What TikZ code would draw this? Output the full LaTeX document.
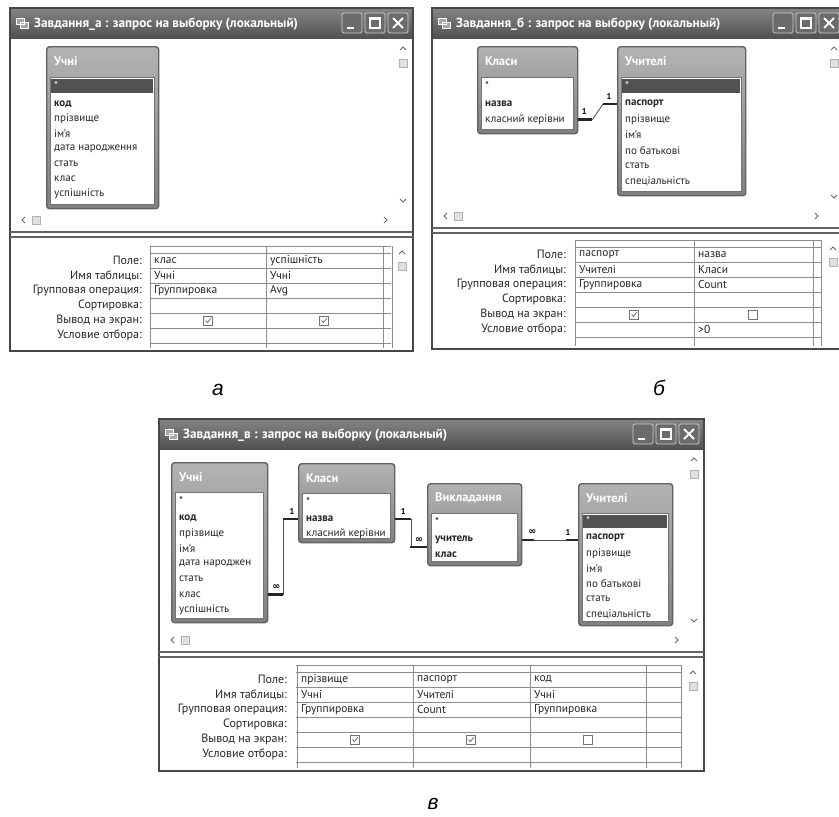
\documentclass[tikz,border=0pt]{standalone}
\usepackage{fontspec}
\setmainfont{PT Sans}
\newfontfamily\capfont{Liberation Sans}
\newfontfamily\symfont{DejaVu Sans}
\usetikzlibrary{positioning,calc}

\begin{document}
\begin{tikzpicture}[x=1pt,y=-1pt,
winframe/.style={draw=black!72,line width=2.2pt},
tbar/.style={top color=black!48,bottom color=black!68},
ttl/.style={font=\bfseries\fontsize{13.2}{15}\selectfont,text=white,anchor=west,inner sep=0pt},
btn/.style={draw=white!80!black,line width=0.8pt,fill=black!58,rounded corners=1.5pt},
arw/.style={draw=black!60,line width=1pt},
thumb/.style={draw=black!30,fill=black!12,line width=0.5pt},
lbl/.style={font=\fontsize{12}{13}\selectfont,anchor=east,inner sep=1pt,text=black!85},
cell/.style={font=\fontsize{11.5}{13}\selectfont,anchor=west,inner sep=1pt,text=black!85},
gline/.style={draw=black!45,line width=0.6pt},
tbl/.style={draw=black!62,line width=1.4pt,top color=black!30,bottom color=black!50,rounded corners=3pt,anchor=north west,inner sep=0pt},
lst/.style={draw=black!55,line width=0.6pt,fill=white},
thead/.style={font=\bfseries\fontsize{12.5}{14}\selectfont,text=white,anchor=west,inner sep=0pt},
fld/.style={font=\fontsize{11}{12}\selectfont,anchor=west,inner sep=0pt,text=black!85},
keyfld/.style={fld,font=\bfseries\fontsize{11}{12}\selectfont},
sel/.style={fill=black!68},
rel/.style={draw=black!70,line width=0.8pt},
relend/.style={draw=black!85,line width=2.4pt},
card/.style={font=\bfseries\fontsize{8.5}{9}\selectfont,inner sep=0pt},
many/.style={font=\symfont\bfseries\fontsize{9.5}{10}\selectfont,inner sep=0pt},
chk/.style={draw=black!55,line width=0.6pt,minimum size=9pt,inner sep=0pt,fill=white},
tick/.style={draw=black!55,line width=0.8pt},
capt/.style={font=\capfont\itshape\fontsize{21}{23}\selectfont,inner sep=0pt}]
\useasboundingbox (0,0) rectangle (839,817);
\clip (0,0) rectangle (839,817);
\fill[white] (0,0) rectangle (839,817);
\foreach \n/\lt/\xl/\yt/\xr/\yb/\dv/\gl/\gt/\gc in {a/а/10/8/413/351/232/143/246/{150,266,383,392},b/б/432/8/844/349/228/567/240/{575,694,813,821},v/в/159/419/704/771/652/288/665/{297,413,530,646,681}}{
\fill[white] (\xl,\yt) rectangle (\xr,\yb);
\fill[tbar] (\xl,\yt) rectangle (\xr,{\yt+30});
\draw[winframe] (\xl,\yt) rectangle (\xr,\yb);
\draw[white,fill=black!35,line width=0.6pt] ({\xl+6},{\yt+10}) rectangle ++(8,6) ({\xl+10},{\yt+14}) rectangle ++(8,6);
\node[ttl] (\n-title) at ({\xl+24},{\yt+16}) {Завдання\_\lt\ : запрос на выборку (локальный)};
\foreach \k in {0,1,2} \draw[btn] ({\xr-71+23*\k},{\yt+5}) rectangle ++(20,20);
\draw[white,line width=2pt] ({\xr-66},{\yt+20}) -- ++(7,0);
\draw[white,line width=1.2pt] ({\xr-43},{\yt+10}) rectangle ++(10,10);
\draw[white,line width=2pt] ({\xr-43},{\yt+10.5}) -- ++(10,0);
\draw[white,line width=1.8pt] ({\xr-20},{\yt+10}) -- ++(10,10) ({\xr-10},{\yt+10}) -- ++(-10,10);
\draw[black!62,line width=1.3pt] (\xl,\dv) -- (\xr,\dv) (\xl,{\dv+5}) -- (\xr,{\dv+5});
\draw[arw] ({\xr-13},{\yt+42}) -- ({\xr-10},{\yt+39}) -- ({\xr-7},{\yt+42});
\draw[thumb] ({\xr-14},{\yt+51}) rectangle ++(8,8);
\draw[arw] ({\xr-13},{\dv-33}) -- ({\xr-10},{\dv-30}) -- ({\xr-7},{\dv-33});
\draw[arw] ({\xl+15},{\dv-15}) -- ({\xl+12},{\dv-12}) -- ({\xl+15},{\dv-9});
\draw[thumb] ({\xl+22},{\dv-16}) rectangle ++(8,8);
\draw[arw] ({\xr-29},{\dv-15}) -- ({\xr-26},{\dv-12}) -- ({\xr-29},{\dv-9});
\draw[arw] ({\xr-14},{\dv+22}) -- ({\xr-11},{\dv+19}) -- ({\xr-8},{\dv+22});
\draw[thumb] ({\xr-15},{\dv+30}) rectangle ++(8,8);
\draw[gline] ({\gl+8},\gt) -- ({\xr-22},\gt);
\foreach \k in {0,...,6} \draw[gline] ({\gl+8},{\gt+7+15*\k}) -- ({\xr-22},{\gt+7+15*\k});
\foreach \c in \gc \draw[gline] (\c,\gt) -- (\c,{\yb-3});
\foreach \r [count=\k from 0] in {Поле:,Имя таблицы:,Групповая операция:,Сортировка:,Вывод на экран:,Условие отбора:} \node[lbl] (\n-l\k) at (\gl,{\gt+14.5+15*\k}) {\r};
}
\node[tbl,minimum width=112pt,minimum height=162pt] (aUchni) at (46,46) {};
\node[thead] at (54,61) {Учні};
\draw[lst] (50,77) rectangle (154,204);
\fill[sel] (51,79) rectangle (153,93);
\node[fld,text=white] (aUchni-0) at (54,86) {*};
\node[keyfld] (aUchni-1) at (54,104) {код};
\foreach \f [count=\k from 2] in {прізвище,ім’я,дата народження,стать,клас,успішність} \node[fld] (aUchni-\k) at (54,{104+15*(\k-1)}) {\f};
\foreach \c/\r/\t [count=\k] in {150/0/клас,266/0/успішність,150/1/Учні,266/1/Учні,150/2/Группировка,266/2/Avg} \node[cell] (a-v\k) at ({\c+3},{260.5+15*\r}) {\t};
\foreach \c [count=\k] in {208,324} {\node[chk] (a-x\k) at (\c,320.5) {}; \draw[tick] ($(a-x\k.center)+(-2.5,0)$) -- ++(2,2) -- ++(3.5,-4.5);}
\node[tbl,minimum width=100pt,minimum height=87pt] (bKlasy) at (477,46) {};
\node[thead] at (485,61) {Класи};
\draw[lst] (481,77) rectangle (573,129);
\node[fld] (bKlasy-0) at (485,86) {*};
\node[keyfld] (bKlasy-1) at (485,104) {назва};
\node[fld] (bKlasy-2) at (485,119.5) {класний керівни};
\node[tbl,minimum width=128pt,minimum height=149pt] (bUchyt) at (617,46) {};
\node[thead] at (625,61) {Учителі};
\draw[lst] (621,77) rectangle (741,191);
\fill[sel] (622,79) rectangle (740,93);
\node[fld,text=white] (bUchyt-0) at (625,86) {*};
\node[keyfld] (bUchyt-1) at (625,104) {паспорт};
\foreach \f [count=\k from 2] in {прізвище,ім’я,по батькові,стать,спеціальність} \node[fld] (bUchyt-\k) at (625,{104+15.4*(\k-1)}) {\f};
\draw[rel] (bKlasy.east |- bKlasy-2) -- ++(14,0) -- ($(bUchyt.west |- bUchyt-1)+(-14,0)$) -- (bUchyt.west |- bUchyt-1);
\draw[relend] (bKlasy.east |- bKlasy-2) -- ++(14,0);
\draw[relend] (bUchyt.west |- bUchyt-1) -- ++(-14,0);
\node[card] at ($(bKlasy.east |- bKlasy-2)+(6,-8)$) {1};
\node[card] at ($(bUchyt.west |- bUchyt-1)+(-8,-8)$) {1};
\foreach \c/\r/\t [count=\k] in {575/0/паспорт,694/0/назва,575/1/Учителі,694/1/Класи,575/2/Группировка,694/2/Count,694/5/>0} \node[cell] (b-v\k) at ({\c+3},{254.5+15*\r}) {\t};
\node[chk] (b-x1) at (634,314.5) {};
\draw[tick] ($(b-x1.center)+(-2.5,0)$) -- ++(2,2) -- ++(3.5,-4.5);
\node[chk] (b-x2) at (753,314.5) {};
\node[tbl,minimum width=96pt,minimum height=160pt] (vUchni) at (171,462) {};
\node[thead] at (179,477) {Учні};
\draw[lst] (175,492) rectangle (263,618);
\node[fld] (vUchni-0) at (179,501) {*};
\node[keyfld] (vUchni-1) at (179,518) {код};
\foreach \f [count=\k from 2] in {прізвище,ім’я,дата народжен,стать,клас,успішність} \node[fld] (vUchni-\k) at (179,{518+15.3*(\k-1)}) {\f};
\node[tbl,minimum width=96pt,minimum height=79pt] (vKlasy) at (298,463) {};
\node[thead] at (306,478) {Класи};
\draw[lst] (302,493) rectangle (390,538);
\node[fld] (vKlasy-0) at (306,502) {*};
\node[keyfld] (vKlasy-1) at (306,519) {назва};
\node[fld] (vKlasy-2) at (306,534) {класний керівни};
\node[tbl,minimum width=94pt,minimum height=82pt] (vVykl) at (427,483) {};
\node[thead] at (435,498) {Викладання};
\draw[lst] (431,513) rectangle (517,561);
\node[fld] (vVykl-0) at (435,522) {*};
\node[keyfld] (vVykl-1) at (435,540) {учитель};
\node[keyfld] (vVykl-2) at (435,555) {клас};
\node[tbl,minimum width=94pt,minimum height=142pt] (vUchyt) at (578,483) {};
\node[thead] at (586,498) {Учителі};
\draw[lst] (582,513) rectangle (668,621);
\fill[sel] (583,515) rectangle (667,528);
\node[fld,text=white] (vUchyt-0) at (586,521) {*};
\node[keyfld] (vUchyt-1) at (586,538) {паспорт};
\foreach \f [count=\k from 2] in {прізвище,ім’я,по батькові,стать,спеціальність} \node[fld] (vUchyt-\k) at (586,{538+15.2*(\k-1)}) {\f};
\draw[rel] (vUchni.east |- vUchni-6) -- ++(15,0) |- (vKlasy.west |- vKlasy-1);
\draw[relend] (vUchni.east |- vUchni-6) -- ++(15,0);
\draw[relend] (vKlasy.west |- vKlasy-1) -- ++(-15,0);
\node[many] at ($(vUchni.east |- vUchni-6)+(8,-7)$) {∞};
\node[card] at ($(vKlasy.west |- vKlasy-1)+(-6,-8)$) {1};
\draw[rel] (vKlasy.east |- vKlasy-1) -- ++(16,0) |- ($(vVykl.west |- vVykl-1)+(0,7)$);
\draw[relend] (vKlasy.east |- vKlasy-1) -- ++(16,0);
\draw[relend] ($(vVykl.west |- vVykl-1)+(0,7)$) -- ++(-17,0);
\node[card] at ($(vKlasy.east |- vKlasy-1)+(8,-8)$) {1};
\node[many] at ($(vVykl.west |- vVykl-1)+(-8,0)$) {∞};
\draw[rel] (vVykl.east |- vVykl-1) -- (vUchyt.west |- vVykl-1);
\draw[relend] (vVykl.east |- vVykl-1) -- ++(12,0);
\draw[relend] (vUchyt.west |- vVykl-1) -- ++(-12,0);
\node[many] at ($(vVykl.east |- vVykl-1)+(10,-8)$) {∞};
\node[card] at ($(vUchyt.west |- vVykl-1)+(-10,-8)$) {1};
\foreach \c/\r/\t [count=\k] in {297/0/прізвище,413/0/паспорт,530/0/код,297/1/Учні,413/1/Учителі,530/1/Учні,297/2/Группировка,413/2/Count,530/2/Группировка} \node[cell] (v-v\k) at ({\c+3},{679.5+15*\r}) {\t};
\foreach \c [count=\k] in {355,471} {\node[chk] (v-x\k) at (\c,739.5) {}; \draw[tick] ($(v-x\k.center)+(-2.5,0)$) -- ++(2,2) -- ++(3.5,-4.5);}
\node[chk] (v-x3) at (588,739.5) {};
\node[capt] (capA) at (218,390) {а};
\node[capt] (capB) at (659,388) {б};
\node[capt] (capV) at (433,804) {в};
\end{tikzpicture}
\end{document}
